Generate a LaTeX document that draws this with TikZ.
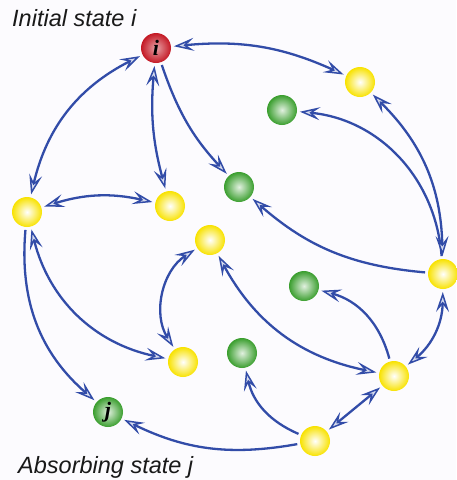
\documentclass[tikz,border=0pt]{standalone}
\usepackage{fontspec}
\setmainfont{Liberation Sans}
\newfontfamily\serifbi{Liberation Serif}
\usetikzlibrary{arrows.meta}
\definecolor{edgeblue}{RGB}{50,76,168}
\definecolor{ballyellow}{RGB}{248,226,0}
\definecolor{ballgreen}{RGB}{58,158,46}
\definecolor{ballred}{RGB}{196,24,36}
\definecolor{bgcol}{RGB}{252,251,254}
\begin{document}
\begin{tikzpicture}[x=1pt,y=1pt,
  ball/.style={circle, minimum size=30pt, inner sep=0pt, outer sep=3pt},
  yball/.style={ball, inner color=white, outer color=ballyellow},
  gball/.style={ball, inner color=white!85!ballgreen, outer color=ballgreen},
  rball/.style={ball, inner color=ballred!40!white, outer color=ballred},
  balllabel/.style={font=\fontsize{22}{22}\selectfont\serifbi\bfseries\itshape},
  title/.style={anchor=base west, font=\fontsize{23.5}{24}\selectfont\itshape, text=black!90, inner sep=0pt},
  edge/.style={draw=edgeblue, line width=2.3pt},
  >={Stealth[length=20pt,width=13pt,inset=8pt,open,fill=white!80!edgeblue,line width=1.5pt]}]
\fill[bgcol] (0,0) rectangle (456,-480);
\useasboundingbox (0,0) rectangle (456,-480);

\node[title] (t1) at (12,-26) {Initial state i};
\node[title] (t2) at (18,-473) {Absorbing state j};

\node[rball, balllabel] (i) at (156,-48) {i};
\node[yball] (A) at (360,-82) {};
\node[gball] (G1) at (282,-110) {};
\node[gball] (G2) at (239,-187) {};
\node[yball] (L) at (27,-212) {};
\node[yball] (M) at (170,-206) {};
\node[yball] (C) at (210,-240) {};
\node[yball] (R) at (443,-274) {};
\node[gball] (G3) at (304,-286) {};
\node[gball] (G4) at (242,-353) {};
\node[yball] (P) at (183,-362) {};
\node[yball] (Q) at (394,-376) {};
\node[yball] (S) at (315,-441) {};
\node[gball, balllabel] (j) at (108,-412) {j};

\draw[edge,<->] (i) to[bend left=15] (A);
\draw[edge,<->] (i) to[bend right=25] (L);
\draw[edge,<->] (i) to[bend right=10] (M);
\draw[edge,->] (i) to[bend right=12] (G2);
\draw[edge,<->] (L) to[bend left=15] (M);
\draw[edge,<->] (L) to[bend right=32] (P);
\draw[edge,->] (L) to[bend right=27] (j);
\draw[edge,<->] (C) to[bend right=45] (P);
\draw[edge,->] (R) to[bend left=18] (G2);
\draw[edge,->] (R) to[bend right=40] (G1);
\draw[edge,<->] (A) to[bend left=22] (R);
\draw[edge,<->] (R) to[bend left=25] (Q);
\draw[edge,->] (Q) to[bend right=30] (G3);
\draw[edge,<->] (C) to[bend right=25] (Q);
\draw[edge,<->] (S) -- (Q);
\draw[edge,->] (S) to[bend left=27] (G4);
\draw[edge,->] (S) to[bend left=18] (j);
\end{tikzpicture}
\end{document}
